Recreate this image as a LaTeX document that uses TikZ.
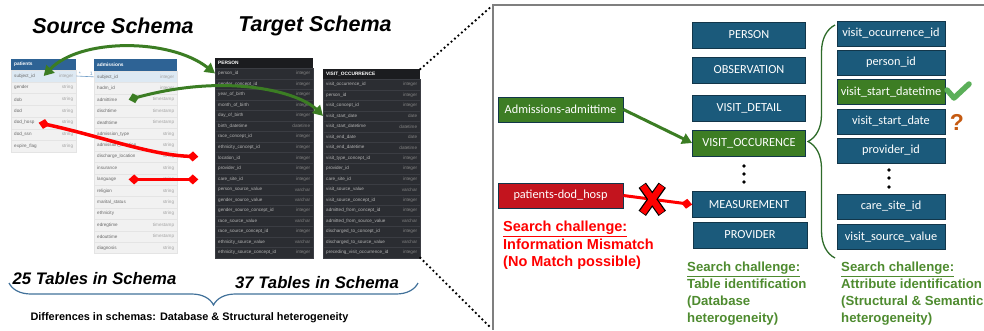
\documentclass[tikz,border=0pt]{standalone}
\usepackage{fontspec}
\setmainfont{Liberation Sans}
\newfontfamily\boxfont{Carlito}
\usetikzlibrary{arrows.meta,positioning,decorations.pathreplacing}

\definecolor{srchead}{HTML}{2E6395}
\definecolor{srcrow}{HTML}{F1F1F1}
\definecolor{srckey}{HTML}{DDE9F3}
\definecolor{srcline}{HTML}{E4E4E4}
\definecolor{srcfield}{HTML}{6A6A6A}
\definecolor{srctype}{HTML}{A3A3A3}
\definecolor{relblue}{HTML}{6F9CC6}
\definecolor{tgthead}{HTML}{1B1C1F}
\definecolor{tgtrow}{HTML}{2B2D32}
\definecolor{tgtline}{HTML}{3B3D43}
\definecolor{tgtfield}{HTML}{B4B4B4}
\definecolor{tgttype}{HTML}{848484}
\definecolor{matchgreen}{HTML}{3B7D23}
\definecolor{missred}{HTML}{FF0000}
\definecolor{tabblue}{HTML}{1B5A7B}
\definecolor{tabgreen}{HTML}{3D7D24}
\definecolor{tabred}{HTML}{C3141E}
\definecolor{tabedge}{HTML}{12364A}
\definecolor{notegreen}{HTML}{4E8B2F}
\definecolor{bracegreen}{HTML}{2E6B2A}
\definecolor{braceblue}{HTML}{41719A}
\definecolor{okgreen}{HTML}{5BAF59}
\definecolor{askorange}{HTML}{C55A11}
\definecolor{panelgray}{HTML}{7F7F7F}

\begin{document}
\begin{tikzpicture}[x=1pt, y=-1pt,
	title/.style={font=\fontsize{21.5}{24}\selectfont\bfseries\itshape},
	tally/.style={font=\fontsize{16.7}{19}\selectfont\bfseries\itshape},
	src head/.style={fill=srchead, anchor=north west, inner sep=0pt},
	src row/.style={fill=srcrow, draw=srcline, line width=0.3pt, anchor=north west, inner sep=0pt},
	tgt head/.style={fill=tgthead, anchor=north west, inner sep=0pt},
	tgt row/.style={fill=tgtrow, draw=tgtline, line width=0.3pt, anchor=north west, inner sep=0pt},
	cell/.style={inner xsep=3pt, inner ysep=0pt, font=\fontsize{4.6}{5}\selectfont},
	head text/.style={cell, anchor=west, text=white, font=\fontsize{4.8}{5}\selectfont\bfseries},
	src field/.style={cell, anchor=west, text=srcfield},
	src type/.style={cell, anchor=east, text=srctype},
	tgt field/.style={cell, anchor=west, text=tgtfield},
	tgt type/.style={cell, anchor=east, text=tgttype},
	match/.style={draw=matchgreen, line width=3pt},
	miss/.style={draw=missred, line width=3.5pt},
	Tri/.tip={Triangle[length=10pt,width=11pt]},
	Dia/.tip={Diamond[length=11pt,width=10pt]},
	zoom line/.style={line width=2.6pt, dash pattern=on 0pt off 4.6pt, line cap=round, shorten >=4pt},
	tab box/.style={draw=tabedge, line width=0.8pt, fill=tabblue, text=white, minimum width=113pt, minimum height=26pt, inner sep=0pt, font=\boxfont\fontsize{12.3}{14}\selectfont},
	attr box/.style={tab box, minimum width=108pt, minimum height=25pt},
	note/.style={anchor=north west, align=left, inner sep=0pt, font=\fontsize{13.2}{17}\selectfont\bfseries}
]

	\useasboundingbox (0,0) rectangle (984,330);

	\node[title] (src-title) at (113,26) {Source Schema};
	\node[title] (tgt-title) at (315,26) {Target Schema};

	% patients
	\def\tx{11} \def\ty{59} \def\colw{65} \def\rowh{11.7}
	\node[src head, minimum width=\colw*1pt, minimum height=11pt] (pat) at (\tx,\ty) {};
	\node[head text] (pat-h) at (pat.west) {patients};
	\foreach \fld/\typ [count=\i] in {subject\_id/integer, gender/string, dob/string, dod/string,
		dod\_hosp/string, dod\_ssn/string, expire\_flag/string} {
		\ifnum\i=1 \def\rowfill{srckey}\else\def\rowfill{srcrow}\fi
		\node[src row, fill=\rowfill, minimum width=\colw*1pt, minimum height=\rowh*1pt] (pat-\i) at (\tx,{\ty+11+\rowh*(\i-1)}) {};
		\node[src field] (pat-\i-f) at (pat-\i.west) {\fld};
		\node[src type] (pat-\i-t) at (pat-\i.east) {\typ};
	}

	% admissions
	\def\tx{94} \def\ty{59} \def\colw{83} \def\rowh{11.4}
	\node[src head, minimum width=\colw*1pt, minimum height=12pt] (adm) at (\tx,\ty) {};
	\node[head text] (adm-h) at (adm.west) {admissions};
	\foreach \fld/\typ [count=\i] in {subject\_id/integer, hadm\_id/integer, admittime/timestamp,
		dischtime/timestamp, deathtime/timestamp, admission\_type/string, admission\_location/string,
		discharge\_location/string, insurance/string, language/string, religion/string,
		marital\_status/string, ethnicity/string, edregtime/timestamp, edouttime/timestamp, diagnosis/string} {
		\ifnum\i=1 \def\rowfill{srckey}\else\def\rowfill{srcrow}\fi
		\node[src row, fill=\rowfill, minimum width=\colw*1pt, minimum height=\rowh*1pt] (adm-\i) at (\tx,{\ty+12+\rowh*(\i-1)}) {};
		\node[src field] (adm-\i-f) at (adm-\i.west) {\fld};
		\node[src type] (adm-\i-t) at (adm-\i.east) {\typ};
	}

	\draw[relblue, line width=0.6pt] (pat-1.east) -- (adm-1.west)
		node[pos=0.2, above, inner sep=0.5pt, font=\fontsize{5}{5}\selectfont] (rel-many) {*}
		node[pos=0.85, above, inner sep=0.5pt, font=\fontsize{5}{5}\selectfont] (rel-one) {1};

	% PERSON
	\def\tx{215} \def\ty{58} \def\colw{98} \def\rowh{10.55}
	\node[tgt head, minimum width=\colw*1pt, minimum height=10pt] (per) at (\tx,\ty) {};
	\node[head text] (per-h) at (per.west) {PERSON};
	\foreach \fld/\typ [count=\i] in {person\_id/integer, gender\_concept\_id/integer, year\_of\_birth/integer,
		month\_of\_birth/integer, day\_of\_birth/integer, birth\_datetime/datetime, race\_concept\_id/integer,
		ethnicity\_concept\_id/integer, location\_id/integer, provider\_id/integer, care\_site\_id/integer,
		person\_source\_value/varchar, gender\_source\_value/varchar, gender\_source\_concept\_id/integer,
		race\_source\_value/varchar, race\_source\_concept\_id/integer, ethnicity\_source\_value/varchar,
		ethnicity\_source\_concept\_id/integer} {
		\node[tgt row, minimum width=\colw*1pt, minimum height=\rowh*1pt] (per-\i) at (\tx,{\ty+10+\rowh*(\i-1)}) {};
		\node[tgt field] (per-\i-f) at (per-\i.west) {\fld};
		\node[tgt type] (per-\i-t) at (per-\i.east) {\typ};
	}

	% VISIT_OCCURRENCE
	\def\tx{323} \def\ty{69} \def\colw{97} \def\rowh{10.5}
	\node[tgt head, minimum width=\colw*1pt, minimum height=10pt] (vis) at (\tx,\ty) {};
	\node[head text] (vis-h) at (vis.west) {VISIT\_OCCURRENCE};
	\foreach \fld/\typ [count=\i] in {visit\_occurrence\_id/integer, person\_id/integer, visit\_concept\_id/integer,
		visit\_start\_date/date, visit\_start\_datetime/datetime, visit\_end\_date/date, visit\_end\_datetime/datetime,
		visit\_type\_concept\_id/integer, provider\_id/integer, care\_site\_id/integer, visit\_source\_value/varchar,
		visit\_source\_concept\_id/integer, admitted\_from\_concept\_id/integer, admitted\_from\_source\_value/varchar,
		discharged\_to\_concept\_id/integer, discharged\_to\_source\_value/varchar,
		preceding\_visit\_occurrence\_id/integer} {
		\node[tgt row, minimum width=\colw*1pt, minimum height=\rowh*1pt] (vis-\i) at (\tx,{\ty+10+\rowh*(\i-1)}) {};
		\node[tgt field] (vis-\i-f) at (vis-\i.west) {\fld};
		\node[tgt type] (vis-\i-t) at (vis-\i.east) {\typ};
	}

	% matches and misses between the schemas
	\coordinate (miss-a) at ([xshift=21pt]adm-8.east);
	\coordinate (miss-b) at ([xshift=21pt]adm-10.east);
	\draw[match, Tri-Tri] (pat-1.center) .. controls (80,38) and (170,38) .. (per-1.west);
	\draw[match, Dia-Tri] ([xshift=-7pt]adm-3.center) .. controls (230,72) and (300,93) .. (vis-4.west);
	\draw[miss, Dia-Dia] ([xshift=-5pt]pat-5.center) .. controls (100,136) and (150,155) .. (miss-a);
	\draw[miss, Dia-Dia] ([xshift=-7pt]adm-10.center) -- (miss-b);

	\node[tally] (src-count) at (94.5,279) {25 Tables in Schema};
	\node[tally] (tgt-count) at (317,283) {37 Tables in Schema};
	\draw[braceblue, line width=1.2pt, decorate, decoration={brace, amplitude=22pt}] (418,283) -- (9,283);
	\node[font=\fontsize{10.9}{13}\selectfont\bfseries] (diff) at (189.5,318)
		{Differences in schemas: Database \& Structural heterogeneity};

	% zoomed panel
	\coordinate (pane-nw) at (493,5);
	\coordinate (pane-sw) at (493,330);
	\draw[panelgray, line width=1.5pt] (984,5) -- (pane-nw) -- (pane-sw);
	\draw[zoom line] (vis.north east) -- (pane-nw);
	\draw[zoom line] (vis-17.south east) -- (pane-sw);

	\node[tab box, fill=tabgreen, minimum width=125pt, minimum height=25pt] (admit) at (560.5,109.5) {Admissions-admittime};
	\node[tab box, fill=tabred, minimum width=125pt, minimum height=25pt] (dodh) at (560.5,195.5) {patients-dod\_hosp};

	\node[tab box] (t-person) at (749,35) {PERSON};
	\node[tab box] (t-obs) at (749,70) {OBSERVATION};
	\node[tab box] (t-detail) at (749,108) {VISIT\_DETAIL};
	\node[tab box, fill=tabgreen] (t-visit) at (749,143) {VISIT\_OCCURENCE};
	\node[tab box] (t-meas) at (749,204.5) {MEASUREMENT};
	\node[tab box, minimum width=114pt] (t-prov) at (750,235) {PROVIDER};
	\foreach \dy in {166,174,182}
		\fill (744,\dy) circle (1.8pt);

	\foreach \att/\ay [count=\i] in {visit\_occurrence\_id/33.5, person\_id/62.5, visit\_start\_datetime/92,
		visit\_start\_date/121.5, provider\_id/150.5, care\_site\_id/206.5, visit\_source\_value/237} {
		\ifnum\i=3 \def\rowfill{tabgreen}\else\def\rowfill{tabblue}\fi
		\node[attr box, fill=\rowfill] (a-\i) at (891,\ay) {\att};
	}
	\foreach \dy in {170,178,187}
		\fill (889,\dy) circle (1.8pt);

	\draw[match, -Tri] (admit.east) -- (t-visit.west);
	\draw[miss, line width=3pt, -Dia] (dodh.east) -- (t-meas.west) coordinate[pos=0.42] (nomatch);
	\draw[line width=9pt] ([shift={(-10,-14)}]nomatch) -- ([shift={(10,14)}]nomatch)
		([shift={(10,-14)}]nomatch) -- ([shift={(-10,14)}]nomatch);
	\draw[missred, line width=6.5pt] ([shift={(-9.5,-13.5)}]nomatch) -- ([shift={(9.5,13.5)}]nomatch)
		([shift={(9.5,-13.5)}]nomatch) -- ([shift={(-9.5,13.5)}]nomatch);

	\draw[bracegreen, line width=1.3pt, decorate, decoration={brace, amplitude=27pt}] (835,258) -- (835,25);

	\draw[okgreen, line width=5.5pt, line cap=round, line join=round] (947,90) -- (954,98) -- (969,84);
	\node[text=askorange, font=\fontsize{23}{24}\selectfont\bfseries] (ask) at (957,122) {?};

	\node[note, text=missred, font=\fontsize{14.5}{17.5}\selectfont\bfseries] (note-miss) at (503,221)
		{\underline{Search challenge:}\\Information Mismatch\\(No Match possible)};
	\node[note, text=notegreen] (note-table) at (687,262)
		{\underline{Search challenge:}\\Table identification\\(Database\\heterogeneity)};
	\node[note, text=notegreen] (note-attr) at (841,262)
		{\underline{Search challenge:}\\Attribute identification\\(Structural \& Semantic\\heterogeneity)};

\end{tikzpicture}
\end{document}
